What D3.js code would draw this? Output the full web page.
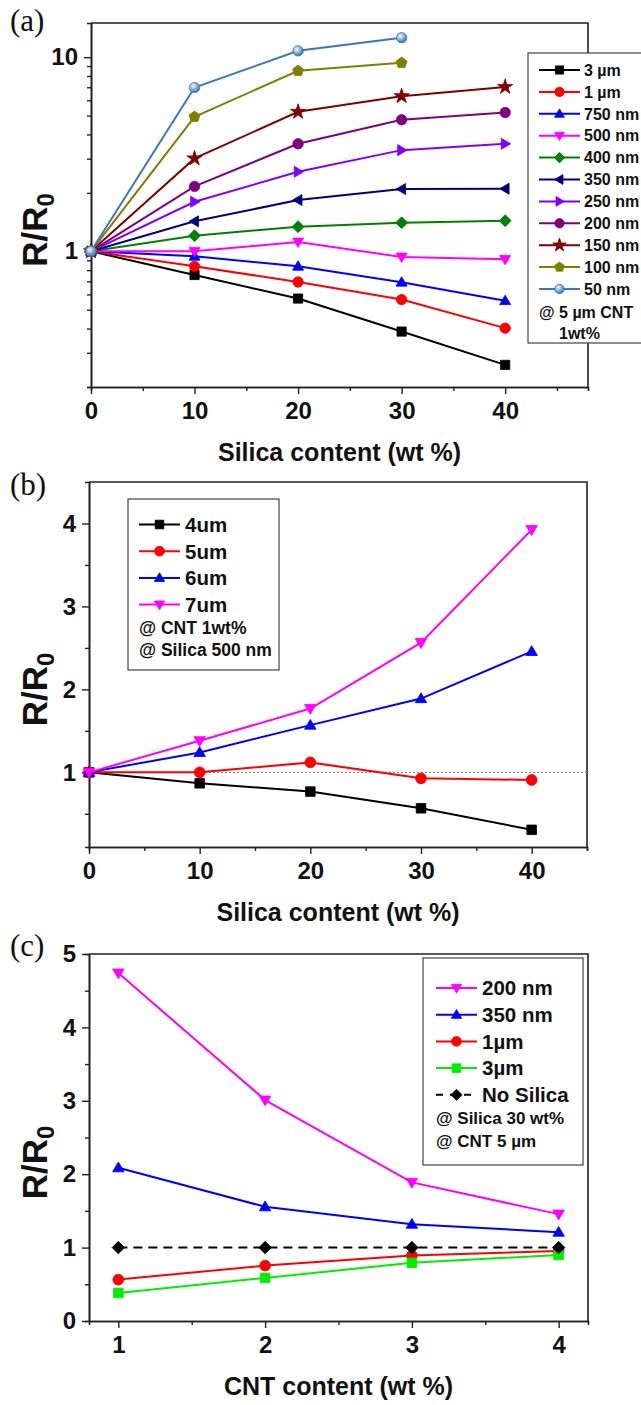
<!DOCTYPE html>
<html>
<head>
<meta charset="utf-8">
<script src="https://cdn.jsdelivr.net/npm/d3@7"></script>
<style>
    body { margin: 0; background: #fff; }
    svg text { font-family: "Liberation Sans", Arial, sans-serif; font-weight: bold; fill: #111; }
    .panel-tag { font-family: "Liberation Serif", "Times New Roman", serif !important; font-weight: normal !important; }
</style>
</head>
<body>
<svg id="fig" width="641" height="1405"></svg>
<script>
// ---------- (a) R/R0 vs silica content, silica particle size ----------
const silicaA = [0, 10, 20, 30, 40];
const namesA = ["3 µm", "1 µm", "750 nm", "500 nm", "400 nm", "350 nm", "250 nm", "200 nm", "150 nm", "100 nm", "50 nm"];
const a3um = [1, 0.755, 0.571, 0.386, 0.260];
const a1um = [1, 0.837, 0.695, 0.564, 0.402];
const a750 = [1, 0.943, 0.837, 0.693, 0.557];
const a500 = [1, 1.0, 1.117, 0.935, 0.909];
const a400 = [1, 1.204, 1.339, 1.404, 1.438];
const a350 = [1, 1.427, 1.837, 2.093, 2.10];
const a250 = [1, 1.80, 2.57, 3.32, 3.58];
const a200 = [1, 2.16, 3.58, 4.76, 5.19];
const a150 = [1, 3.01, 5.23, 6.30, 7.03];
const a100 = [1, 4.93, 8.51, 9.35];
const a50 = [1, 6.98, 10.78, 12.6];
const notesA = ["@ 5 µm CNT", "1wt%"];
const xTicksA = [0, 10, 20, 30, 40];
const xMinorA = [5, 15, 25, 35, 45];
const yTicksA = [1, 10];
const yMinorA = [0.2, 0.3, 0.4, 0.5, 0.6, 0.7, 0.8, 0.9, 2, 3, 4, 5, 6, 7, 8, 9];

// ---------- (b) R/R0 vs silica content, CNT length ----------
const silicaB = [0, 10, 20, 30, 40];
const namesB = ["4um", "5um", "6um", "7um"];
const b4um = [1, 0.868, 0.768, 0.567, 0.307];
const b5um = [1, 1.0, 1.12, 0.928, 0.908];
const b6um = [1, 1.24, 1.569, 1.889, 2.458];
const b7um = [1, 1.381, 1.769, 2.563, 3.925];
const notesB = ["@ CNT 1wt%", "@ Silica 500 nm"];
const xTicksB = [0, 10, 20, 30, 40];
const xMinorB = [5, 15, 25, 35, 45];
const yTicksB = [1, 2, 3, 4];
const yMinorB = [0.5, 1.5, 2.5, 3.5];

// ---------- (c) R/R0 vs CNT content ----------
const cntC = [1, 2, 3, 4];
const namesC = ["200 nm", "350 nm", "1µm", "3µm", "No Silica"];
const c200 = [4.74, 3.01, 1.888, 1.456];
const c350 = [2.088, 1.556, 1.319, 1.21];
const c1um = [0.564, 0.755, 0.892, 0.955];
const c3um = [0.382, 0.587, 0.792, 0.90];
const cNone = [1, 1, 1, 1];
const notesC = ["@ Silica 30 wt%", "@ CNT 5 µm"];
const xTicksC = [1, 2, 3, 4];
const xMinorC = [1.5, 2.5, 3.5];
const yTicksC = [0, 1, 2, 3, 4, 5];
const yMinorC = [0.5, 1.5, 2.5, 3.5, 4.5];

const svg = d3.select("#fig");

// sphere fill for the 50 nm series
const grad = svg.append("defs").append("radialGradient")
    .attr("id", "sphere").attr("cx", "38%").attr("cy", "35%").attr("r", "65%");
grad.append("stop").attr("offset", "0%").attr("stop-color", "#ffffff");
grad.append("stop").attr("offset", "35%").attr("stop-color", "#a9c8e8");
grad.append("stop").attr("offset", "100%").attr("stop-color", "#3b72ad");

function poly(pts) {
    return "M" + pts.map(p => p[0].toFixed(2) + "," + p[1].toFixed(2)).join("L") + "Z";
}

function markerPath(shape, r) {
    switch (shape) {
        case "square": return poly([[-r, -r], [r, -r], [r, r], [-r, r]]);
        case "circle":
        case "sphere": return d3.symbol(d3.symbolCircle, Math.PI * (r + 0.6) * (r + 0.6))();
        case "up": return poly([[0, -r * 1.2], [r * 1.2, r * 0.85], [-r * 1.2, r * 0.85]]);
        case "down": return poly([[0, r * 1.2], [r * 1.2, -r * 0.85], [-r * 1.2, -r * 0.85]]);
        case "left": return poly([[-r * 1.2, 0], [r * 0.85, -r * 1.2], [r * 0.85, r * 1.2]]);
        case "right": return poly([[r * 1.2, 0], [-r * 0.85, -r * 1.2], [-r * 0.85, r * 1.2]]);
        case "diamond": return poly([[0, -r * 1.3], [r * 1.3, 0], [0, r * 1.3], [-r * 1.3, 0]]);
        case "star": return d3.symbol(d3.symbolStar, r * r * 3.4)();
        case "pentagon": return poly(d3.range(5).map(k => {
            const a = -Math.PI / 2 + k * 2 * Math.PI / 5;
            return [Math.cos(a) * r * 1.25, Math.sin(a) * r * 1.25];
        }));
    }
}

function drawMarker(g, shape, color, px, py, r) {
    g.append("path")
        .attr("transform", `translate(${px},${py})`)
        .attr("d", markerPath(shape, r))
        .attr("fill", shape === "sphere" ? "url(#sphere)" : color)
        .attr("stroke", color)
        .attr("stroke-width", 0.8);
}

function drawPanel(p) {
    const g = svg.append("g");
    const x = p.x, y = p.y;

    // top and right frame
    g.append("path")
        .attr("d", `M${p.left},${p.top}H${p.right}V${p.bottom}`)
        .attr("fill", "none").attr("stroke", "#222").attr("stroke-width", 1.6);

    // minor ticks
    g.append("g").attr("transform", `translate(0,${p.bottom})`)
        .call(d3.axisBottom(x).tickValues(p.xMinor).tickSize(4).tickFormat(""));
    g.append("g").attr("transform", `translate(${p.left},0)`)
        .call(d3.axisLeft(y).tickValues(p.yMinor).tickSize(4).tickFormat(""));

    // major ticks + labels
    g.append("g").attr("class", "axis").attr("transform", `translate(0,${p.bottom})`)
        .call(d3.axisBottom(x).tickValues(p.xTicks).tickSize(7).tickSizeOuter(0).tickPadding(8).tickFormat(d3.format("d")));
    g.append("g").attr("class", "axis").attr("transform", `translate(${p.left},0)`)
        .call(d3.axisLeft(y).tickValues(p.yTicks).tickSize(7).tickSizeOuter(0).tickPadding(6).tickFormat(d3.format("d")));

    g.selectAll(".axis text").attr("font-size", 24).attr("fill", "#111")
        .style("font-family", "'Liberation Sans', Arial, sans-serif").style("font-weight", "bold");
    g.selectAll(".tick line").attr("stroke", "#222").attr("stroke-width", 1.4);
    g.selectAll(".domain").attr("stroke", "#222").attr("stroke-width", 1.6);

    // axis titles
    g.append("text")
        .attr("x", (p.left + p.right) / 2).attr("y", p.bottom + 74)
        .attr("text-anchor", "middle").attr("font-size", 25)
        .text(p.xTitle);
    const yt = g.append("text")
        .attr("transform", `translate(47,${(p.top + p.bottom) / 2 + 25}) rotate(-90)`)
        .attr("text-anchor", "middle").attr("font-size", 35);
    yt.append("tspan").text("R/R");
    yt.append("tspan").attr("font-size", 24).attr("dy", 7).text("0");

    // panel tag
    g.append("text").attr("class", "panel-tag")
        .attr("x", 10).attr("y", p.tagY).attr("font-size", 31).text(p.tag);

    if (p.refLine) {
        g.append("line")
            .attr("x1", x(p.refLine[0])).attr("x2", p.right)
            .attr("y1", y(p.refLine[1])).attr("y2", y(p.refLine[1]))
            .attr("stroke", "#777").attr("stroke-width", 1).attr("stroke-dasharray", "2,2");
    }

    // series
    p.series.forEach(s => {
        const pts = s.values.map((v, j) => [x(p.xs[j]), y(v)]);
        g.append("path")
            .attr("d", d3.line()(pts))
            .attr("fill", "none").attr("stroke", s.color).attr("stroke-width", 2)
            .attr("stroke-dasharray", s.dash || null);
        pts.forEach(pt => drawMarker(g, s.shape, s.color, pt[0], pt[1], p.markerR));
    });

    // legend
    const L = p.legend;
    g.append("rect")
        .attr("x", L.x).attr("y", L.y).attr("width", L.w).attr("height", L.h)
        .attr("fill", "#fff").attr("stroke", "#444").attr("stroke-width", 1.2);
    p.series.forEach((s, i) => {
        const cy = L.row0 + i * L.step;
        g.append("line")
            .attr("x1", L.lx).attr("x2", L.lx + 41).attr("y1", cy).attr("y2", cy)
            .attr("stroke", s.color).attr("stroke-width", 2)
            .attr("stroke-dasharray", s.dash ? "7,7" : null);
        drawMarker(g, s.shape, s.color, L.lx + 20.5, cy, p.markerR - 0.5);
        g.append("text")
            .attr("x", L.lx + L.tx).attr("y", cy).attr("dy", "0.36em")
            .attr("font-size", L.font).text(s.name);
    });
    L.notes.forEach((t, i) => {
        g.append("text")
            .attr("x", L.nx[i]).attr("y", L.noteY[i]).attr("dy", "0.36em")
            .attr("font-size", L.noteFont).text(t);
    });
}

// ---------- panel (a) ----------
const colorsA = ["#000000", "#ff0000", "#0000ff", "#ff00ff", "#008000", "#000080", "#8000ff", "#800080", "#800000", "#808000", "#3b78b8"];
const shapesA = ["square", "circle", "up", "down", "diamond", "left", "right", "circle", "star", "pentagon", "sphere"];
const valuesA = [a3um, a1um, a750, a500, a400, a350, a250, a200, a150, a100, a50];

drawPanel({
    tag: "(a)", tagY: 31,
    left: 91, right: 588, top: 23, bottom: 387,
    x: d3.scaleLinear().domain([0, 48]).range([91, 588]),
    y: d3.scaleLog().domain([0.2, 15]).range([387, 23]),
    xs: silicaA, xTicks: xTicksA, xMinor: xMinorA, yTicks: yTicksA, yMinor: yMinorA,
    xTitle: "Silica content (wt %)",
    markerR: 4.6,
    series: namesA.map((n, i) => ({ name: n, values: valuesA[i], color: colorsA[i], shape: shapesA[i] })),
    legend: {
        x: 528, y: 53, w: 140, h: 290, lx: 539, tx: 45, row0: 70, step: 21.9, font: 16,
        notes: notesA, nx: [539, 559], noteY: [312, 333], noteFont: 16
    }
});

// ---------- panel (b) ----------
const colorsB = ["#000000", "#ff0000", "#0000ff", "#ff00ff"];
const shapesB = ["square", "circle", "up", "down"];
const valuesB = [b4um, b5um, b6um, b7um];

drawPanel({
    tag: "(b)", tagY: 495,
    left: 89, right: 587, top: 482, bottom: 847,
    x: d3.scaleLinear().domain([0, 45]).range([89, 587]),
    y: d3.scaleLinear().domain([0.1, 4.5]).range([847, 482]),
    xs: silicaB, xTicks: xTicksB, xMinor: xMinorB, yTicks: yTicksB, yMinor: yMinorB,
    xTitle: "Silica content (wt %)",
    refLine: [0, 1],
    markerR: 4.8,
    series: namesB.map((n, i) => ({ name: n, values: valuesB[i], color: colorsB[i], shape: shapesB[i] })),
    legend: {
        x: 128, y: 499, w: 151, h: 171, lx: 139, tx: 46, row0: 524.5, step: 26.7, font: 20.5,
        notes: notesB, nx: [139, 139], noteY: [628, 650], noteFont: 17.5
    }
});

// ---------- panel (c) ----------
const colorsC = ["#ff00ff", "#0000ff", "#ff0000", "#00ee00", "#000000"];
const shapesC = ["down", "up", "circle", "square", "diamond"];
const valuesC = [c200, c350, c1um, c3um, cNone];

drawPanel({
    tag: "(c)", tagY: 956,
    left: 89, right: 588, top: 954, bottom: 1321,
    x: d3.scaleLinear().domain([0.8, 4.2]).range([89, 588]),
    y: d3.scaleLinear().domain([0, 5]).range([1321, 954]),
    xs: cntC, xTicks: xTicksC, xMinor: xMinorC, yTicks: yTicksC, yMinor: yMinorC,
    xTitle: "CNT content (wt %)",
    markerR: 4.8,
    series: namesC.map((n, i) => ({ name: n, values: valuesC[i], color: colorsC[i], shape: shapesC[i], dash: i === 4 ? "9,6" : null })),
    legend: {
        x: 423, y: 958, w: 160, h: 207, lx: 436, tx: 46, row0: 988, step: 26.7, font: 20.5,
        notes: notesC, nx: [436, 436], noteY: [1118, 1141], noteFont: 17
    }
});
</script>
</body>
</html>
